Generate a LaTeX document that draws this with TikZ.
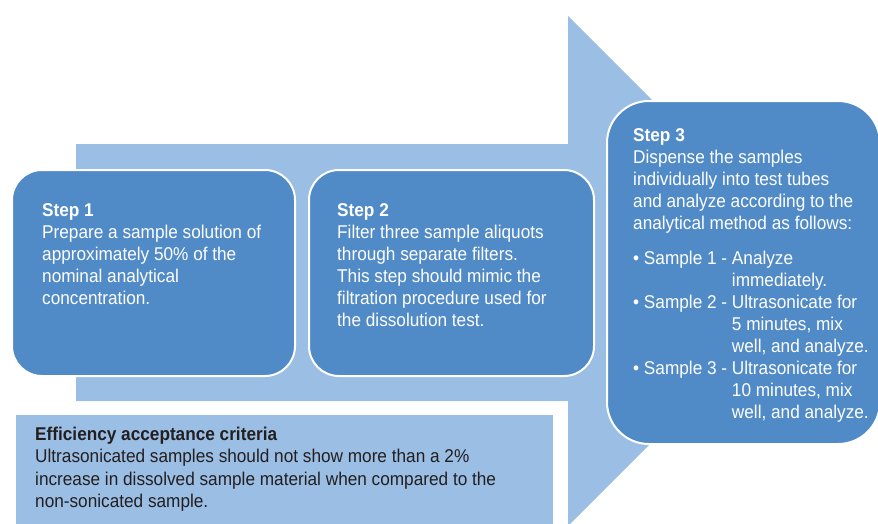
\documentclass[tikz,border=0pt]{standalone}
\usepackage{fontspec}
\setmainfont{Liberation Sans}[FakeStretch=0.93]
\definecolor{arrowblue}{RGB}{155,190,228}
\definecolor{boxblue}{RGB}{80,138,199}
\definecolor{inkdark}{RGB}{35,31,32}
\tikzset{
    stepbox/.style={draw=white, line width=2pt, fill=boxblue, anchor=north west,
        inner sep=0pt, rounded corners=30pt}
}
\tikzset{
    steptext/.style={anchor=north west, inner sep=0pt, align=left, text=white,
        font=\fontsize{18.5}{22}\selectfont}
}

\begin{document}
\begin{tikzpicture}[x=1pt, y=-1pt]
	\useasboundingbox (0,0) rectangle (878,523);
	% big arrow behind the steps
	\fill[arrowblue] (76,144) -- (568,144) -- (568,16) -- (823,271) -- (568,526)
		-- (568,401) -- (76,401) -- cycle;

	\node (step1) [stepbox, minimum width=283pt, minimum height=206pt] at (11,169) {};
	\node (step2) [stepbox, minimum width=285pt, minimum height=206pt] at (308,169) {};
	\node (step3) [stepbox, minimum width=273pt, minimum height=343pt, rounded corners=42pt] at (606,100) {};
	\node (crit) [fill=arrowblue, anchor=north west, inner sep=0pt, minimum width=537pt,
		minimum height=115pt] at (16,415) {};

	\node (step1text) [steptext] at (42,203.5) {\textbf{Step 1}\\Prepare a sample solution of\\
		approximately 50\% of the\\nominal analytical\\concentration.};
	\node (step2text) [steptext] at (337,203.5) {\textbf{Step 2}\\Filter three sample aliquots\\
		through separate filters.\\This step should mimic the\\filtration procedure used for\\
		the dissolution test.};
	\node (step3text) [steptext] at (633,128.5) {\textbf{Step 3}\\Dispense the samples\\
		individually into test tubes\\and analyze according to the\\analytical method as follows:};
	\node (step3list) [steptext] at (633,248.6) {%
		\begin{tabular}{@{}l@{\ }l@{}}
		\textbullet\ Sample 1 - & Analyze\\
		& immediately.\\
		\textbullet\ Sample 2 - & Ultrasonicate for\\
		& 5 minutes, mix\\
		& well, and analyze.\\
		\textbullet\ Sample 3 - & Ultrasonicate for\\
		& 10 minutes, mix\\
		& well, and analyze.
		\end{tabular}};
	\node (crittext) [steptext, text=inkdark, font=\fontsize{18.5}{22.5}\selectfont] at (35,426.8)
		{\textbf{Efficiency acceptance criteria}\\Ultrasonicated samples should not show more than a 2\%\\
		increase in dissolved sample material when compared to the\\non-sonicated sample.};
\end{tikzpicture}
\end{document}
